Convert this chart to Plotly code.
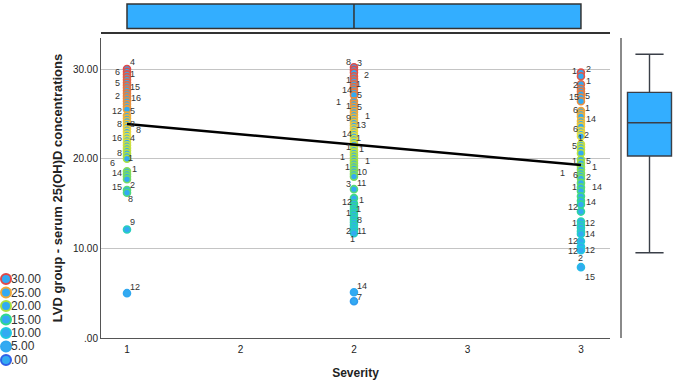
import plotly.graph_objects as go

W, H = 677, 381

# ---------------- data ----------------
severity_cats = [1, 2, 3]
col1_vals = [30.0, 29.7, 29.4, 29.1, 28.8, 28.5, 28.2, 27.9, 27.6, 27.3, 27.0, 26.7, 26.4,
             26.1, 25.8, 25.5, 24.8, 24.5, 24.2, 23.9, 23.6, 23.3, 23.0, 22.7, 22.4, 22.1,
             21.8, 21.5, 21.2, 20.9, 20.6, 20.3, 20.0, 18.6, 18.3, 18.0, 17.7, 16.5, 16.2,
             12.1, 5.0]
col2_vals = [30.2, 29.9, 29.6, 29.2, 28.9, 28.6, 28.3, 28.0, 27.7, 27.4, 27.1, 26.4, 26.1,
             25.8, 25.5, 25.2, 24.9, 24.6, 24.3, 24.0, 23.7, 23.4, 23.1, 22.8, 22.5, 22.2,
             21.9, 21.6, 21.3, 21.0, 20.7, 20.4, 20.1, 19.8, 19.5, 19.2, 18.9, 18.6, 18.3,
             18.0, 16.6, 15.6, 15.0, 14.7, 14.4, 14.1, 13.8, 13.5, 13.2, 12.9, 12.6, 12.3,
             12.0, 11.7, 5.1, 4.1]
col3_vals = [29.6, 29.2, 28.3, 27.8, 27.5, 27.2, 26.8, 26.4, 25.3, 25.0, 24.7, 24.2, 23.9,
             23.6, 23.1, 22.8, 22.5, 21.6, 21.3, 21.0, 20.6, 19.9, 19.5, 19.1, 18.8, 18.4,
             18.1, 17.8, 17.3, 16.8, 16.4, 15.8, 15.3, 14.9, 14.1, 13.0, 12.6, 12.3, 11.9,
             11.6, 10.8, 10.2, 9.8, 7.9]

# point labels: (value, text, horizontal shift in px)
col1_labels = [(30.78, "4", 6), (29.66, "6", -9), (29.44, "1", 6), (28.44, "5", -9),
               (27.99, "15", 8), (26.99, "2", -9), (26.77, "16", 9), (25.32, "12", -10),
               (25.32, "5", 6), (23.87, "8", -7), (23.87, "8", 6), (23.20, "8", 12),
               (22.30, "16", -10), (22.30, "4", 6), (20.63, "8", -7), (20.07, "1", 4),
               (19.52, "6", -14), (18.85, "1", 8), (18.40, "14", -10), (17.06, "2", 6),
               (16.84, "15", -10), (15.50, "8", 4), (12.94, "9", 6), (5.69, "12", 8)]
col2_labels = [(30.78, "8", -5), (30.67, "3", 6), (29.33, "2", 13), (28.77, "1", -5),
               (28.33, "1", 5), (27.66, "14", -7), (27.10, "5", 6), (26.32, "1", -15),
               (25.87, "1", -5), (25.76, "5", 6), (24.76, "1", 14), (24.53, "9", -5),
               (23.75, "13", 7), (22.75, "14", -7), (22.30, "1", 5), (21.30, "1", -5),
               (21.08, "1", 8), (20.19, "1", -11), (19.74, "1", 14), (19.07, "1", -6),
               (18.51, "10", 8), (17.17, "3", -5), (17.29, "11", 8), (15.17, "12", -7),
               (15.39, "1", 8), (13.94, "1", -5), (14.39, "1", 5), (13.16, "8", 6),
               (11.93, "2", -5), (11.93, "11", 8), (11.04, "1", -1), (5.80, "14", 8),
               (4.57, "7", 6)]
col3_labels = [(29.78, "1", -6), (30.00, "2", 8), (28.66, "1", 8), (28.21, "2", -5),
               (26.88, "15", -7), (26.99, "5", 7), (25.43, "6", -5), (25.65, "1", 7),
               (24.42, "14", 10), (23.31, "6", -5), (22.64, "2", 6), (22.30, "1", 0),
               (21.41, "5", -6), (19.74, "1", -6), (19.74, "5", 8), (18.40, "1", -18),
               (18.18, "6", -5), (19.07, "1", 14), (17.95, "2", 8), (16.84, "1", -6),
               (16.84, "14", 16), (15.17, "14", 10), (14.61, "12", -8), (12.82, "1", -6),
               (12.82, "12", 9), (11.60, "14", 9), (10.85, "12", -8), (9.70, "12", -8),
               (9.81, "12", 9), (8.92, "2", 0), (6.80, "15", 9)]

fit_x = [1, 3]
fit_y = [23.87, 19.29]

# marginal box plots
sev_q1, sev_med, sev_q3 = 1, 2, 3
vd_low, vd_q1, vd_med, vd_q3, vd_high = 9.51, 20.30, 24.01, 27.40, 31.64

legend_vals = [30, 25, 20, 15, 10, 5, 0]
legend_text = ["30.00", "25.00", "20.00", "15.00", "10.00", "5.00", ".00"]

x_tickvals = [1, 1.5, 2, 2.5, 3]
x_ticktext = ["1", "2", "2", "3", "3"]
y_tickvals = [0, 10, 20, 30]
y_ticktext = [".00", "10.00", "20.00", "30.00"]

# ---------------- styles ----------------
FONT = "Liberation Sans, Arial, sans-serif"
FILL = "#33aaf2"
BOXFILL = "#33aeff"
CSCALE = [[0.0, "#3060e8"], [0.1667, "#30a8f0"], [0.333, "#20c8e0"], [0.5, "#30d890"],
          [0.667, "#a8e040"], [0.75, "#e8e040"], [0.833, "#f0a838"], [1.0, "#e04848"]]

def px_x(a, b):
    return [a / W, b / W]

def px_y(top, bottom):
    return [1 - bottom / H, 1 - top / H]

fig = go.Figure()

# scatter points
all_x, all_y = [], []
for cat, vals in zip(severity_cats, [col1_vals, col2_vals, col3_vals]):
    all_x += [cat] * len(vals)
    all_y += vals
fig.add_trace(go.Scatter(
    x=all_x, y=all_y, mode="markers", xaxis="x", yaxis="y",
    marker=dict(size=7, color=FILL,
                line=dict(width=1.6, color=all_y, colorscale=CSCALE, cmin=0, cmax=30)),
    showlegend=False, hoverinfo="skip"))

# fit line
fig.add_trace(go.Scatter(x=fit_x, y=fit_y, mode="lines", xaxis="x", yaxis="y",
                         line=dict(color="black", width=2.5), showlegend=False))

# top box (Severity)
fig.add_trace(go.Box(
    orientation="h", y=[0], q1=[sev_q1], median=[sev_med], q3=[sev_q3],
    lowerfence=[sev_q1], upperfence=[sev_q3], width=1.0,
    xaxis="x2", yaxis="y2", fillcolor=BOXFILL,
    line=dict(color="#333333", width=1.5), showlegend=False, hoverinfo="skip"))

# right box (serum level)
fig.add_trace(go.Box(
    x=[0.5], q1=[vd_q1], median=[vd_med], q3=[vd_q3],
    lowerfence=[vd_low], upperfence=[vd_high], width=0.8, whiskerwidth=0.64,
    xaxis="x3", yaxis="y3", fillcolor=BOXFILL,
    line=dict(color="#3a3f48", width=1.4), showlegend=False, hoverinfo="skip"))

# colour legend
fig.add_trace(go.Scatter(
    x=[0.075] * len(legend_vals), y=legend_vals, mode="markers", xaxis="x4", yaxis="y4",
    marker=dict(size=10, color=FILL,
                line=dict(width=2, color=legend_vals, colorscale=CSCALE, cmin=0, cmax=30)),
    showlegend=False, hoverinfo="skip"))

annotations = []
for v, t in zip(legend_vals, legend_text):
    annotations.append(dict(x=0.075, y=v, xref="x4", yref="y4", text=t, showarrow=False,
                            xanchor="left", yanchor="middle", xshift=3,
                            font=dict(family=FONT, size=12, color="#333333")))

for cat, labs in zip(severity_cats, [col1_labels, col2_labels, col3_labels]):
    for v, t, sh in labs:
        annotations.append(dict(x=cat, y=v, xref="x", yref="y", text=t, showarrow=False,
                                xanchor="center", yanchor="middle", xshift=sh,
                                font=dict(family=FONT, size=9, color="#333333")))

main_x_dom = px_x(101, 610)
main_y_dom = px_y(38, 338)

fig.update_layout(
    width=W, height=H,
    margin=dict(l=0, r=0, t=0, b=0),
    paper_bgcolor="white", plot_bgcolor="rgba(0,0,0,0)",
    font=dict(family=FONT, color="#222222"),
    annotations=annotations,
    xaxis=dict(domain=main_x_dom, range=[0.8855, 3.128], anchor="y",
               tickvals=x_tickvals, ticktext=x_ticktext, ticks="",
               tickfont=dict(size=10, color="#222222"), ticklabelstandoff=2,
               showline=True, linecolor="#555555", linewidth=1, showgrid=False,
               zeroline=False, automargin=False,
               title=dict(text="<b>Severity</b>", font=dict(size=12, color="#222222"),
                          standoff=14)),
    yaxis=dict(domain=main_y_dom, range=[0, 33.46], anchor="x",
               tickvals=y_tickvals, ticktext=y_ticktext, ticks="",
               tickfont=dict(size=10, color="#222222"),
               showline=True, linecolor="#555555", linewidth=1,
               showgrid=True, gridcolor="#c4c4c4", gridwidth=1, zeroline=False,
               automargin=False,
               title=dict(text="<b>LVD group - serum 25(OH)D concentrations</b>",
                          font=dict(size=13, color="#222222"), standoff=7)),
    xaxis2=dict(domain=main_x_dom, matches="x", anchor="y2", showticklabels=False,
                ticks="", showgrid=False, zeroline=False, showline=True,
                linecolor="#333333", linewidth=1.5, automargin=False),
    yaxis2=dict(domain=px_y(0, 32), range=[-0.64, 0.66], anchor="x2", visible=False,
                showgrid=False, zeroline=False),
    xaxis3=dict(domain=px_x(622, 677), range=[0, 1], anchor="y3", visible=False,
                showgrid=False, zeroline=False),
    yaxis3=dict(domain=main_y_dom, matches="y", anchor="x3", showticklabels=False,
                ticks="", showgrid=False, zeroline=False, showline=True,
                linecolor="#8a8a8a", linewidth=2, automargin=False),
    xaxis4=dict(domain=px_x(0, 80), range=[0, 1], anchor="y4", visible=False,
                showgrid=False, zeroline=False),
    yaxis4=dict(domain=px_y(272, 367), range=[-2.6, 32.6], anchor="x4", visible=False,
                showgrid=False, zeroline=False),
)

fig.write_html("out.html")
